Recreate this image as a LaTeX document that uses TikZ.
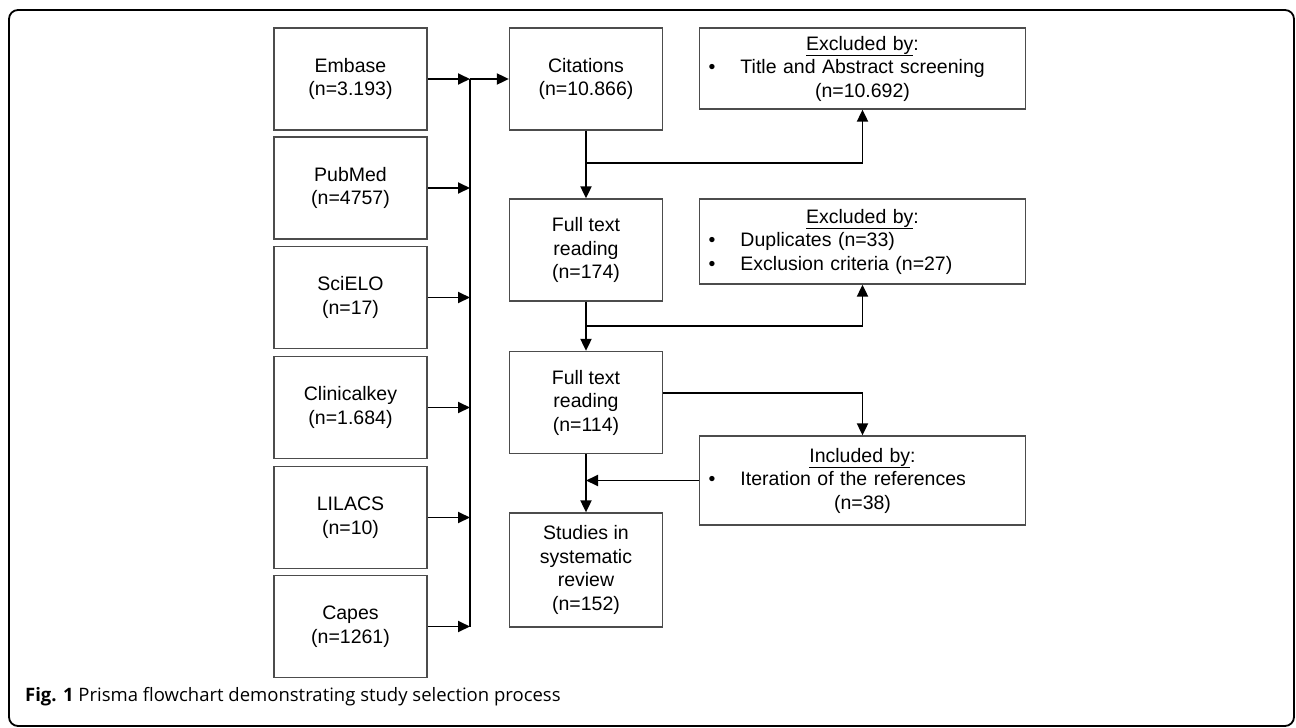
\documentclass[tikz,border=0pt]{standalone}
\usepackage{fontspec}
\setmainfont{Liberation Sans}
\newfontfamily\captionfont{Open Sans}
\usetikzlibrary{arrows.meta}

\newcommand{\itemline}[1]{\makebox[\hsize][l]{\hspace{9pt}\makebox[32pt][l]{\textbullet}#1}}

\begin{document}
\begin{tikzpicture}[
    x=1pt, y=-1pt,
    >={Triangle[length=12pt,width=11pt]},
    box/.style={
        draw=black!70,
        line width=1.3pt,
        minimum width=153pt,
        minimum height=102pt,
        inner sep=0pt,
        align=center,
        font=\fontsize{19.5}{23.5}\selectfont
    },
    listbox/.style={
        box,
        minimum width=326pt,
        text width=326pt
    },
    arr/.style={->, line width=1.9pt, draw=black},
    bus/.style={line width=1.9pt, draw=black}
]
    \useasboundingbox (0,0) rectangle (1296,728);
    \draw[line width=1.8pt, rounded corners=9pt] (9,10) rectangle (1294,726);

    % databases
    \node[box] (embase) at (350.5,79) {Embase\\(n=3.193)};
    \node[box] (pubmed) at (350.5,188) {PubMed\\(n=4757)};
    \node[box] (scielo) at (350.5,297.5) {SciELO\\(n=17)};
    \node[box] (clinicalkey) at (350.5,407.5) {Clinicalkey\\(n=1.684)};
    \node[box] (lilacs) at (350.5,517.5) {LILACS\\(n=10)};
    \node[box] (capes) at (350.5,626.5) {Capes\\(n=1261)};

    % selection steps
    \node[box] (citations) at (586,79) {Citations\\(n=10.866)};
    \node[box] (fulltext1) at (586,250) {Full text\\reading\\(n=174)};
    \node[box] (fulltext2) at (586,402.5) {Full text\\reading\\(n=114)};
    \node[box, minimum height=114pt] (studies) at (586,570)
        {Studies in\\systematic\\review\\(n=152)};

    \node[listbox, minimum height=81pt] (excl1) at (862.5,68.5)
        {\underline{Excluded by}:\\
         \itemline{Title and Abstract screening}\\
         (n=10.692)};
    \node[listbox, minimum height=85pt] (excl2) at (862.5,241.5)
        {\underline{Excluded by}:\\
         \itemline{Duplicates (n=33)}\\
         \itemline{Exclusion criteria (n=27)}};
    \node[listbox, minimum height=89pt] (incl) at (862.5,480.5)
        {\underline{Included by}:\\
         \itemline{Iteration of the references}\\
         (n=38)};

    \node[anchor=base west, inner sep=0pt, font=\captionfont\fontsize{18.5}{22}\selectfont]
        (caption) at (25,701) {\textbf{Fig. 1} Prisma flowchart demonstrating study selection process};

    \coordinate (bus) at (470,79);
    \coordinate (split1) at (586,163);
    \coordinate (split2) at (586,326);

    \foreach \db in {embase,pubmed,scielo,clinicalkey,lilacs,capes}
        \draw[arr] (\db.east) -- (\db.east -| bus);
    \draw[bus] (bus) -- (capes.east -| bus);
    \draw[arr] (bus) -- (citations.west);

    \draw[arr] (citations) -- (fulltext1);
    \draw[arr] (split1) -| (excl1.south);
    \draw[arr] (fulltext1) -- (fulltext2);
    \draw[arr] (split2) -| (excl2.south);
    \draw[arr] ([yshift=9.5pt]fulltext2.east) -| (incl.north);
    \draw[arr] (fulltext2) -- (studies);
    \draw[arr] (incl.west) -- (incl.west -| studies.north);
\end{tikzpicture}
\end{document}
